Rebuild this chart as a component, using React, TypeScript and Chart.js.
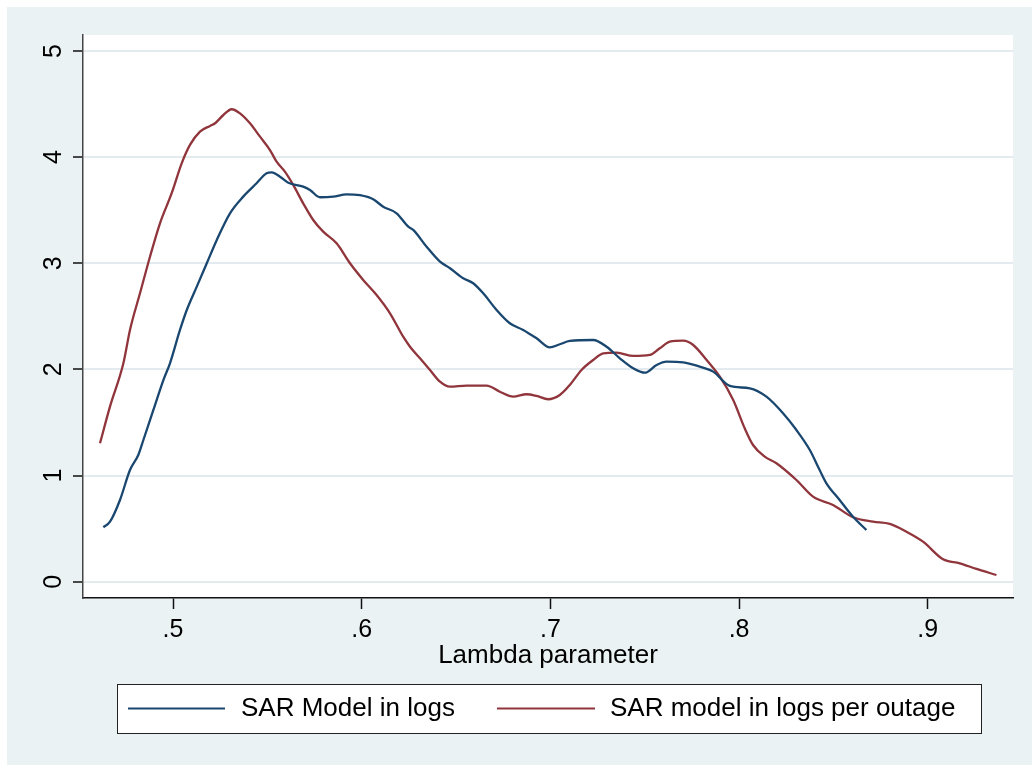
import React, { useEffect, useRef } from 'react';
import { Chart, registerables } from 'chart.js';

Chart.register(...registerables);

const seriesNames = ['SAR Model in logs', 'SAR model in logs per outage'];

const blueX = [0.4631, 0.4666, 0.4719, 0.4772, 0.4816, 0.4843, 0.4896, 0.4949, 0.4984, 0.5037, 0.5073, 0.5126, 0.5179, 0.5232, 0.5302, 0.5372, 0.5443, 0.5496, 0.5523, 0.5567, 0.5611, 0.569, 0.5726, 0.5779, 0.5849, 0.592, 0.5991, 0.6061, 0.6114, 0.6185, 0.6247, 0.6273, 0.6344, 0.6415, 0.6468, 0.6538, 0.6591, 0.6644, 0.6715, 0.6785, 0.6856, 0.6927, 0.6997, 0.705, 0.7103, 0.7227, 0.7298, 0.7368, 0.7439, 0.7501, 0.7563, 0.7616, 0.7704, 0.7792, 0.7863, 0.7951, 0.8057, 0.8145, 0.8233, 0.8304, 0.8375, 0.8427, 0.8463, 0.8533, 0.8604, 0.8675];
const blueY = [0.513, 0.565, 0.77, 1.052, 1.194, 1.335, 1.618, 1.9, 2.058, 2.372, 2.56, 2.78, 3.0, 3.22, 3.471, 3.628, 3.754, 3.848, 3.857, 3.816, 3.759, 3.722, 3.691, 3.622, 3.628, 3.65, 3.641, 3.603, 3.533, 3.471, 3.345, 3.314, 3.156, 3.015, 2.953, 2.859, 2.812, 2.717, 2.56, 2.435, 2.372, 2.293, 2.208, 2.237, 2.268, 2.277, 2.214, 2.105, 2.011, 1.969, 2.042, 2.073, 2.067, 2.026, 1.979, 1.844, 1.822, 1.743, 1.587, 1.429, 1.241, 1.052, 0.927, 0.77, 0.612, 0.487];

const redX = [0.4613, 0.4666, 0.4737, 0.4772, 0.4825, 0.4878, 0.4931, 0.4993, 0.5046, 0.509, 0.5143, 0.5196, 0.5223, 0.5267, 0.5311, 0.5355, 0.5408, 0.5461, 0.5514, 0.5549, 0.5593, 0.5637, 0.569, 0.5743, 0.5796, 0.5867, 0.5938, 0.6008, 0.6079, 0.615, 0.622, 0.6256, 0.6309, 0.6362, 0.6415, 0.6468, 0.6556, 0.6662, 0.6732, 0.6803, 0.6874, 0.6927, 0.6988, 0.705, 0.7103, 0.7165, 0.7227, 0.728, 0.7351, 0.7439, 0.7527, 0.758, 0.7633, 0.7704, 0.7757, 0.7828, 0.7898, 0.7969, 0.803, 0.8074, 0.8136, 0.8198, 0.8304, 0.8392, 0.8498, 0.8604, 0.871, 0.8799, 0.8887, 0.8975, 0.9081, 0.917, 0.9258, 0.9364];
const redY = [1.304, 1.649, 2.058, 2.372, 2.717, 3.062, 3.377, 3.66, 3.942, 4.115, 4.24, 4.294, 4.319, 4.397, 4.451, 4.413, 4.319, 4.193, 4.067, 3.957, 3.863, 3.738, 3.565, 3.408, 3.298, 3.188, 3.0, 2.843, 2.701, 2.529, 2.308, 2.214, 2.105, 1.995, 1.884, 1.837, 1.847, 1.847, 1.79, 1.743, 1.766, 1.75, 1.719, 1.759, 1.853, 1.995, 2.089, 2.152, 2.158, 2.127, 2.136, 2.199, 2.261, 2.271, 2.23, 2.089, 1.932, 1.712, 1.445, 1.288, 1.178, 1.116, 0.958, 0.801, 0.723, 0.607, 0.565, 0.544, 0.471, 0.377, 0.211, 0.173, 0.12, 0.063];

const xTickValues = [0.5, 0.6, 0.7, 0.8, 0.9];
const xTickLabels = ['.5', '.6', '.7', '.8', '.9'];
const yTickValues = [0, 1, 2, 3, 4, 5];
const yTickLabels = ['0', '1', '2', '3', '4', '5'];
const xAxisTitle = 'Lambda parameter';

const BG = '#eaf2f3';
const GRID = '#e3ebee';
const BLUE = '#1a476f';
const RED = '#90353b';
const FONT = '"Liberation Sans", Arial, Helvetica, sans-serif';

const CW = 1025;
const CH = 758;

const stataPlugin = {
  id: 'stataLook',
  beforeDraw(chart: any) {
    const { ctx, width, height, chartArea } = chart;
    ctx.save();
    ctx.fillStyle = BG;
    ctx.fillRect(0, 0, width, height);
    ctx.fillStyle = '#ffffff';
    ctx.fillRect(chartArea.left, chartArea.top, chartArea.right - chartArea.left, chartArea.bottom - chartArea.top);
    ctx.restore();
  },
  afterDraw(chart: any) {
    const { ctx } = chart;
    const ys = chart.scales.y;
    ctx.save();
    ctx.fillStyle = '#000';
    ctx.font = `25px ${FONT}`;
    ctx.textAlign = 'center';
    ctx.textBaseline = 'middle';
    yTickValues.forEach((v, i) => {
      const py = ys.getPixelForValue(v);
      ctx.save();
      ctx.translate(47, py);
      ctx.rotate(-Math.PI / 2);
      ctx.fillText(yTickLabels[i], 0, 0);
      ctx.restore();
    });
    ctx.restore();

    // legend
    const bx = 110, by = 677, bw = 864, bh = 49;
    ctx.save();
    ctx.fillStyle = '#ffffff';
    ctx.fillRect(bx, by, bw, bh);
    ctx.strokeStyle = '#222';
    ctx.lineWidth = 1;
    ctx.strokeRect(bx + 0.5, by + 0.5, bw, bh);
    const ly = 701.5;
    const items = [
      { color: BLUE, x1: 121, x2: 218, tx: 234, label: seriesNames[0] },
      { color: RED, x1: 490, x2: 588, tx: 603, label: seriesNames[1] },
    ];
    ctx.font = `26px ${FONT}`;
    ctx.textBaseline = 'middle';
    ctx.textAlign = 'left';
    items.forEach((it) => {
      ctx.strokeStyle = it.color;
      ctx.lineWidth = 2.2;
      ctx.beginPath();
      ctx.moveTo(it.x1, ly);
      ctx.lineTo(it.x2, ly);
      ctx.stroke();
      ctx.fillStyle = '#000';
      ctx.fillText(it.label, it.tx, 702);
    });
    ctx.restore();
  },
};

export default function App() {
  const ref = useRef<HTMLCanvasElement | null>(null);

  useEffect(() => {
    if (!ref.current) return;
    const chart = new Chart(ref.current, {
      type: 'line',
      data: {
        datasets: [
          {
            label: seriesNames[0],
            data: blueX.map((x, i) => ({ x, y: blueY[i] })),
            borderColor: BLUE,
            borderWidth: 2.3,
            pointRadius: 0,
            fill: false,
            cubicInterpolationMode: 'monotone',
          },
          {
            label: seriesNames[1],
            data: redX.map((x, i) => ({ x, y: redY[i] })),
            borderColor: RED,
            borderWidth: 2.3,
            pointRadius: 0,
            fill: false,
            cubicInterpolationMode: 'monotone',
          },
        ],
      },
      options: {
        animation: false,
        responsive: false,
        maintainAspectRatio: false,
        layout: { padding: { top: 28, right: 19, left: 0, bottom: 0 } },
        plugins: {
          legend: { display: false },
          tooltip: { enabled: false },
          title: { display: false },
        },
        scales: {
          x: {
            type: 'linear',
            min: 0.4523,
            max: 0.94518,
            afterBuildTicks: (s: any) => {
              s.ticks = xTickValues.map((v) => ({ value: v }));
            },
            afterFit: (s: any) => {
              s.height = 167;
            },
            ticks: {
              callback: (_v: any, i: number) => xTickLabels[i],
              color: '#000',
              font: { family: FONT, size: 25 },
              padding: 6,
              maxRotation: 0,
              minRotation: 0,
              autoSkip: false,
            },
            grid: {
              drawOnChartArea: false,
              drawTicks: true,
              tickLength: 11,
              tickColor: '#111',
              tickWidth: 1.5,
            },
            border: { display: true, color: '#111', width: 1.5 },
            title: {
              display: true,
              text: xAxisTitle,
              color: '#000',
              font: { family: FONT, size: 26 },
              padding: { top: 0, bottom: 94 },
            },
          },
          y: {
            type: 'linear',
            min: -0.1536,
            max: 5.1507,
            afterBuildTicks: (s: any) => {
              s.ticks = yTickValues.map((v) => ({ value: v }));
            },
            afterFit: (s: any) => {
              s.width = 76;
            },
            ticks: { display: false },
            grid: {
              drawOnChartArea: true,
              drawTicks: true,
              tickLength: 10,
              color: GRID,
              lineWidth: 2,
              tickColor: '#111',
              tickWidth: 1.5,
            },
            border: { display: true, color: '#444', width: 1.5 },
          },
        },
      } as any,
      plugins: [stataPlugin],
    });
    return () => chart.destroy();
  }, []);

  return (
    <div style={{ position: 'fixed', left: 7, top: 7, width: CW, height: CH }}>
      <canvas ref={ref} width={CW} height={CH} style={{ display: 'block', width: CW, height: CH }} />
    </div>
  );
}
